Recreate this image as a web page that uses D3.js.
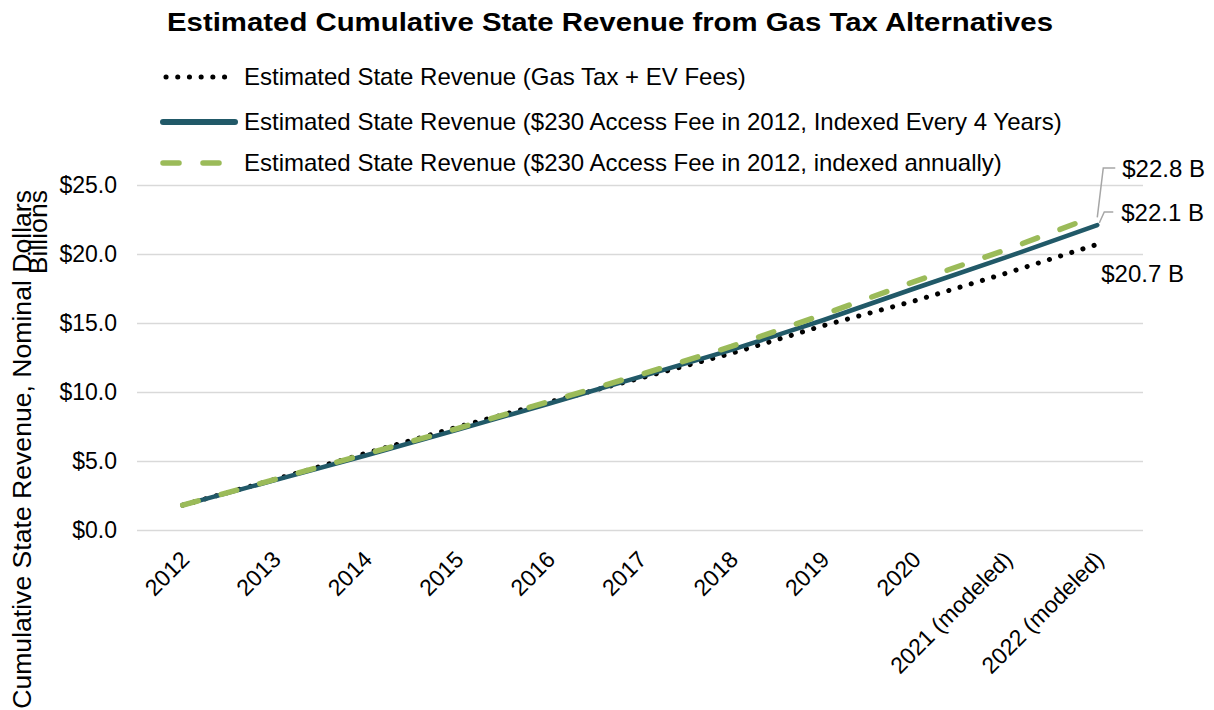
<!DOCTYPE html>
<html>
<head>
<meta charset="utf-8">
<script src="https://cdn.jsdelivr.net/npm/d3@7"></script>
<style>
  body { margin: 0; background: #fff; }
  text { font-family: "Liberation Sans", Arial, sans-serif; fill: #000; }
</style>
</head>
<body>
<div id="chart-area"></div>
<script>
// Dados
var anos = ["2012", "2013", "2014", "2015", "2016", "2017", "2018", "2019", "2020", "2021 (modeled)", "2022 (modeled)"];
var gasTaxEv = [1.8, 3.65, 5.55, 7.45, 9.25, 11.0, 12.8, 14.8, 16.6, 18.6, 20.7];
var indexed4 = [1.8, 3.6, 5.4, 7.25, 9.15, 11.1, 13.05, 15.2, 17.5, 19.75, 22.1];
var indexedAnual = [1.8, 3.65, 5.5, 7.35, 9.3, 11.25, 13.3, 15.6, 18.0, 20.3, 22.8];
var yTicks = [0, 5, 10, 15, 20, 25];
var nomes = [
    "Estimated State Revenue (Gas Tax + EV Fees)",
    "Estimated State Revenue ($230 Access Fee in 2012, Indexed Every 4 Years)",
    "Estimated State Revenue ($230 Access Fee in 2012, indexed annually)"
];
var rotulosFinais = ["$20.7 B", "$22.1 B", "$22.8 B"];

var width = 1214;
var height = 710;

var svg = d3.select("#chart-area")
    .append("svg")
        .attr("width", width)
        .attr("height", height);

var x = d3.scaleBand()
    .domain(anos)
    .range([137, 1143])
    .padding(0);

var y = d3.scaleLinear()
    .domain([0, 25])
    .range([530, 185]);

var cx = function(d) { return x(d) + x.bandwidth() / 2; };

// Estilos das series
var series = [
    { nome: nomes[0], valores: gasTaxEv, cor: "#000000", largura: 5, dash: "0.1,11.6", cap: "round" },
    { nome: nomes[1], valores: indexed4, cor: "#215968", largura: 4.5, dash: null, cap: "round" },
    { nome: nomes[2], valores: indexedAnual, cor: "#9bbb59", largura: 5.5, dash: "16,24", cap: "round" }
];

// Title
svg.append("text")
    .attr("x", 610)
    .attr("y", 31)
    .attr("text-anchor", "middle")
    .attr("font-size", "26px")
    .attr("font-weight", "bold")
    .attr("textLength", 886)
    .attr("lengthAdjust", "spacingAndGlyphs")
    .text("Estimated Cumulative State Revenue from Gas Tax Alternatives");

// Grid
var yAxis = d3.axisLeft(y)
    .tickValues(yTicks)
    .tickSize(-(1143 - 137))
    .tickPadding(20)
    .tickFormat(function(d) { return "$" + d3.format(".1f")(d); });

var yAxisGroup = svg.append("g")
    .attr("transform", "translate(137,0)")
    .call(yAxis);
yAxisGroup.select(".domain").remove();
yAxisGroup.selectAll(".tick line")
    .attr("stroke", "#d9d9d9")
    .attr("stroke-width", 1.5);
yAxisGroup.selectAll(".tick text")
    .attr("font-size", "23px")
    .attr("font-family", "Liberation Sans, Arial, sans-serif")
    .attr("fill", "#000");

// X axis
var xAxis = d3.axisBottom(x).tickSize(0).tickPadding(0);
var xAxisGroup = svg.append("g")
    .attr("transform", "translate(0,530)")
    .call(xAxis);
xAxisGroup.select(".domain").remove();
xAxisGroup.selectAll(".tick text")
    .attr("font-size", "23px")
    .attr("font-family", "Liberation Sans, Arial, sans-serif")
    .attr("fill", "#000")
    .attr("text-anchor", "end")
    .attr("dy", null)
    .attr("y", 0)
    .attr("transform", "translate(8,31) rotate(-45)");

// Y label
var yLabel = svg.append("text")
    .attr("transform", "translate(31,190) rotate(-90)")
    .attr("text-anchor", "end")
    .attr("font-size", "26.6px");
yLabel.append("tspan").attr("x", 0).attr("y", 0).text("Cumulative State Revenue, Nominal Dollars");
yLabel.append("tspan").attr("x", 0).attr("y", 16).text("Billions");

// Lines
var linha = d3.line()
    .x(function(d, i) { return cx(anos[i]); })
    .y(function(d) { return y(d); });

var ordem = [0, 1, 2];
ordem.forEach(function(k) {
    var s = series[k];
    svg.append("path")
        .datum(s.valores)
        .attr("d", linha)
        .attr("fill", "none")
        .attr("stroke", s.cor)
        .attr("stroke-width", s.largura)
        .attr("stroke-linecap", s.cap)
        .attr("stroke-linejoin", "round")
        .attr("stroke-dasharray", s.dash);
});

// Legend
var legendaY = [77, 122, 163];
series.forEach(function(s, i) {
    var g = svg.append("g").attr("transform", "translate(0," + legendaY[i] + ")");
    g.append("line")
        .attr("x1", i == 0 ? 166 : 163)
        .attr("x2", 235)
        .attr("stroke", s.cor)
        .attr("stroke-width", i == 1 ? 6 : s.largura)
        .attr("stroke-linecap", s.cap)
        .attr("stroke-dasharray", s.dash);
    g.append("text")
        .attr("x", 244)
        .attr("dy", "0.35em")
        .attr("font-size", "24px")
        .text(s.nome);
});

// Rotulos finais
var ultimo = anos[anos.length - 1];
var xf = cx(ultimo);
// $22.8 B com linha de chamada
svg.append("polyline")
    .attr("points", [[xf, y(indexedAnual[10]) + 2], [xf + 6, 168], [xf + 18, 168]].join(" "))
    .attr("fill", "none")
    .attr("stroke", "#a6a6a6")
    .attr("stroke-width", 1.5);
svg.append("text")
    .attr("x", xf + 25)
    .attr("y", 169)
    .attr("dy", "0.35em")
    .attr("font-size", "24px")
    .text(rotulosFinais[2]);
// $22.1 B
svg.append("polyline")
    .attr("points", [[xf + 2, y(indexed4[10]) - 2], [xf + 7, 212], [xf + 16, 212]].join(" "))
    .attr("fill", "none")
    .attr("stroke", "#a6a6a6")
    .attr("stroke-width", 1.5);
svg.append("text")
    .attr("x", xf + 24)
    .attr("y", 213)
    .attr("dy", "0.35em")
    .attr("font-size", "24px")
    .text(rotulosFinais[1]);
// $20.7 B
svg.append("text")
    .attr("x", xf + 4)
    .attr("y", 274)
    .attr("dy", "0.35em")
    .attr("font-size", "24px")
    .text(rotulosFinais[0]);
</script>
</body>
</html>
